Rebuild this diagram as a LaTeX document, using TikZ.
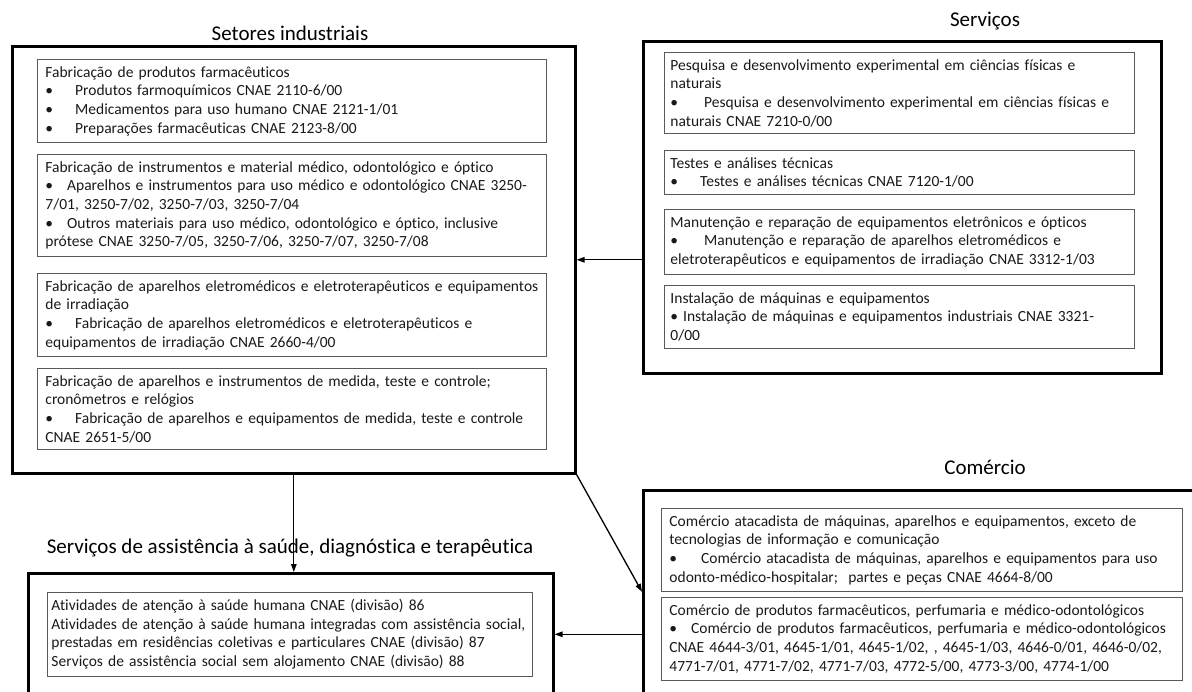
\documentclass[tikz,border=0pt]{standalone}
\usepackage{fontspec}
\setmainfont[Ligatures={NoCommon}]{Carlito}
\usetikzlibrary{arrows.meta, positioning}

\begin{document}
\begin{tikzpicture}[x=1bp, y=-1bp,
    group/.style={rectangle, draw, line width=2.6bp, anchor=north west, inner sep=0pt},
    entry/.style={rectangle, draw=black!65, line width=0.9bp, anchor=north west, align=left, inner xsep=8bp, inner ysep=7bp, text=black!90, font=\fontsize{15.5bp}{18.6bp}\selectfont, text width=#1},
    title/.style={font=\fontsize{21bp}{25bp}\selectfont},
    arrow/.style={-{Triangle[length=8bp, width=5.5bp]}, line width=1.3bp}
]
\useasboundingbox (0,0) rectangle (1192,692);

% Setores industriais
\node[title] (setores-t) at (290,33) {Setores industriais};
\node[group, minimum width=563bp, minimum height=427bp] (setores) at (11,45) {};
\node[entry=493bp] (farma) at (37,59) {Fabricação de produtos farmacêuticos\\
•\hspace{22bp}Produtos farmoquímicos CNAE 2110-6/00\\
•\hspace{22bp}Medicamentos para uso humano CNAE 2121-1/01\\
•\hspace{22bp}Preparações farmacêuticas CNAE 2123-8/00};
\node[entry=493bp] (instr) at (37,154) {Fabricação de instrumentos e material médico, odontológico e óptico\\
•\hspace{14bp}Aparelhos e instrumentos para uso médico e odontológico CNAE 3250-\\
7/01, 3250-7/02, 3250-7/03, 3250-7/04\\
•\hspace{14bp}Outros materiais para uso médico, odontológico e óptico, inclusive\\
prótese CNAE 3250-7/05, 3250-7/06, 3250-7/07, 3250-7/08};
\node[entry=493bp] (eletro) at (37,273) {Fabricação de aparelhos eletromédicos e eletroterapêuticos e equipamentos\\
de irradiação\\
•\hspace{22bp}Fabricação de aparelhos eletromédicos e eletroterapêuticos e\\
equipamentos de irradiação CNAE 2660-4/00};
\node[entry=493bp] (medida) at (37,368) {Fabricação de aparelhos e instrumentos de medida, teste e controle;\\
cronômetros e relógios\\
•\hspace{22bp}Fabricação de aparelhos e equipamentos de medida, teste e controle\\
CNAE 2651-5/00};

% Servicos
\node[title] (servicos-t) at (985,21) {Serviços};
\node[group, minimum width=518bp, minimum height=332bp] (servicos) at (642,40) {};
\node[entry=458bp, inner xsep=6bp] (pesquisa) at (664,52) {Pesquisa e desenvolvimento experimental em ciências físicas e\\
naturais\\
•\hspace{26bp}Pesquisa e desenvolvimento experimental em ciências físicas e\\
naturais CNAE 7210-0/00};
\node[entry=458bp, inner xsep=6bp] (testes) at (664,150) {Testes e análises técnicas\\
•\hspace{22bp}Testes e análises técnicas CNAE 7120-1/00};
\node[entry=458bp, inner xsep=6bp] (manut) at (664,209) {Manutenção e reparação de equipamentos eletrônicos e ópticos\\
•\hspace{26bp}Manutenção e reparação de aparelhos eletromédicos e\\
eletroterapêuticos e equipamentos de irradiação CNAE 3312-1/03};
\node[entry=458bp, inner xsep=6bp] (instal) at (664,285) {Instalação de máquinas e equipamentos\\
•\hspace{5bp}Instalação de máquinas e equipamentos industriais CNAE 3321-\\
0/00};

% Comercio
\node[title] (comercio-t) at (985,467) {Comércio};
\node[group, minimum width=560bp, minimum height=203bp] (comercio) at (642,489) {};
\node[entry=505bp] (atacado) at (661,508) {Comércio atacadista de máquinas, aparelhos e equipamentos, exceto de\\
tecnologias de informação e comunicação\\
•\hspace{24bp}Comércio atacadista de máquinas, aparelhos e equipamentos para uso\\
odonto-médico-hospitalar;\ \ partes e peças CNAE 4664-8/00};
\node[entry=505bp] (varejo) at (661,597) {Comércio de produtos farmacêuticos, perfumaria e médico-odontológicos\\
•\hspace{14bp}Comércio de produtos farmacêuticos, perfumaria e médico-odontológicos\\
CNAE 4644-3/01, 4645-1/01, 4645-1/02, , 4645-1/03, 4646-0/01, 4646-0/02,\\
4771-7/01, 4771-7/02, 4771-7/03, 4772-5/00, 4773-3/00, 4774-1/00};

% Servicos de assistencia
\node[title] (saude-t) at (290,548) {Serviços de assistência à saúde, diagnóstica e terapêutica};
\node[group, minimum width=525bp, minimum height=122bp] (saude) at (27,572) {};
\node[entry=477bp, inner xsep=4bp] (atencao) at (47,592) {Atividades de atenção à saúde humana CNAE (divisão) 86\\
\mbox{Atividades de atenção à saúde humana integradas com assistência social,}\\
prestadas em residências coletivas e particulares CNAE (divisão) 87\\
Serviços de assistência social sem alojamento CNAE (divisão) 88};

% connectors
\draw[arrow] (servicos.west |- setores.east) -- (setores.east);
\draw[arrow] (setores.south) -- (setores.south |- saude.north);
\draw[arrow] (setores.south east) -- (comercio.west);
\draw[arrow] (comercio.west |- saude.east) -- (saude.east);

\end{tikzpicture}
\end{document}
